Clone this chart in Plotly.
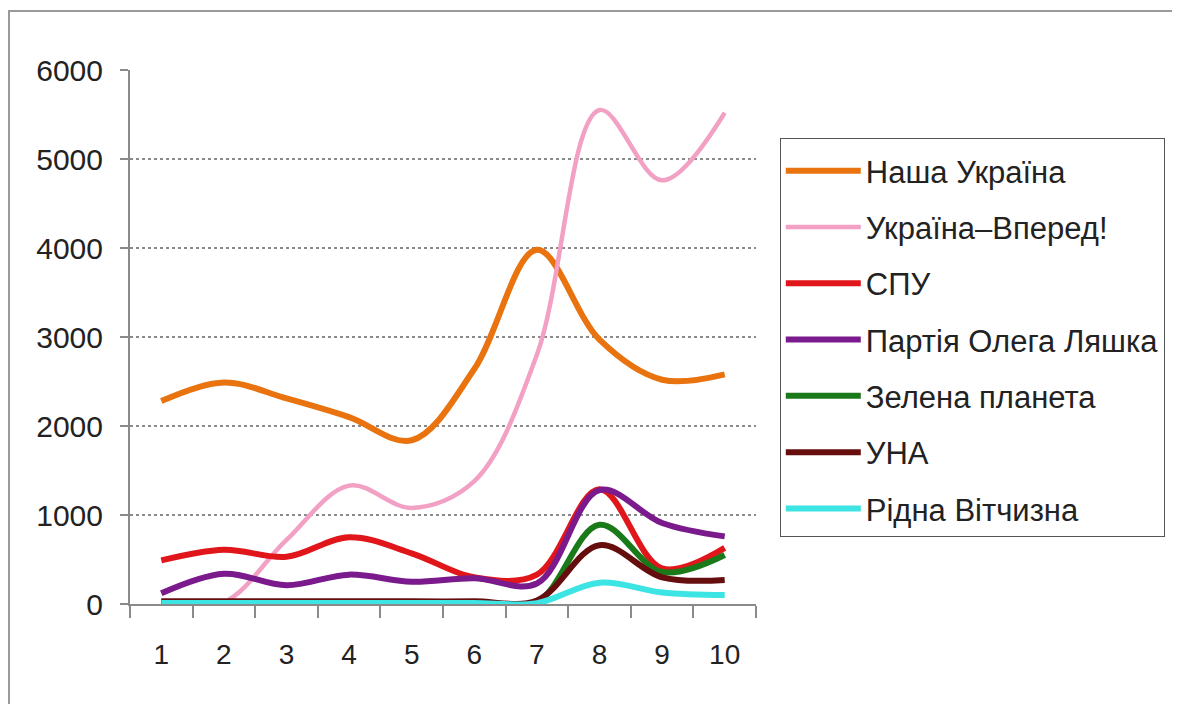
import plotly.graph_objects as go

categories = ["1", "2", "3", "4", "5", "6", "7", "8", "9", "10"]

nasha_ukraina = [2280, 2490, 2310, 2100, 1840, 2640, 3980, 2970, 2520, 2580]
ukraina_vpered = [0, 20, 720, 1330, 1080, 1380, 2800, 5550, 4760, 5520]
spu = [490, 610, 530, 750, 570, 300, 330, 1290, 400, 630]
liashko = [120, 340, 210, 330, 250, 290, 230, 1280, 910, 760]
zelena_planeta = [20, 20, 20, 20, 20, 20, 20, 890, 360, 550]
una = [30, 30, 30, 30, 30, 30, 40, 660, 300, 270]
ridna_vitchyzna = [10, 10, 10, 10, 10, 10, 10, 240, 130, 100]

series_names = ["Наша Україна", "Україна–Вперед!", "СПУ", "Партія Олега Ляшка",
                "Зелена планета", "УНА", "Рідна Вітчизна"]
series_values = [nasha_ukraina, ukraina_vpered, spu, liashko,
                 zelena_planeta, una, ridna_vitchyzna]
series_colors = ["#E8730F", "#F2A0C4", "#E0161B", "#7A1A8C",
                 "#1A7A1A", "#660E0E", "#3CE4E4"]
series_widths = [6, 4.5, 6, 6, 6, 6, 6]

y_ticks = [0, 1000, 2000, 3000, 4000, 5000, 6000]
grid_ticks = [1000, 2000, 3000, 4000, 5000]

FONT = "Liberation Sans, Arial, sans-serif"

fig = go.Figure()
for i, (name, vals, col, w) in enumerate(zip(series_names, series_values, series_colors, series_widths)):
    fig.add_trace(go.Scatter(
        x=categories, y=vals, name=name, mode="lines",
        line=dict(color=col, width=w, shape="spline", smoothing=1.0),
        legendgroup=f"g{i}",
    ))

fig.update_layout(
    width=1180, height=704,
    paper_bgcolor="white", plot_bgcolor="white",
    margin=dict(l=122, r=432, t=62, b=108),
    font=dict(family=FONT, size=26, color="#222222"),
    showlegend=True,
    legend=dict(
        x=1.038, y=0.873, xanchor="left", yanchor="top",
        bgcolor="white", bordercolor="#555555", borderwidth=1,
        font=dict(family=FONT, size=31, color="#222222"),
        title=dict(text=" ", font=dict(size=4)),
        tracegroupgap=13, itemwidth=75,
    ),
    xaxis=dict(
        type="category", tickson="boundaries", range=[-0.5, 9.5],
        showgrid=False, showline=True, linecolor="#8a8a8a", linewidth=2,
        ticks="outside", ticklen=12, tickcolor="#8a8a8a", tickwidth=2,
        tickfont=dict(family=FONT, size=28, color="#222222"),
        ticklabelstandoff=24, zeroline=False,
    ),
    yaxis=dict(
        range=[0, 6000], tickvals=y_ticks,
        showgrid=False, showline=True, linecolor="#8a8a8a", linewidth=2,
        ticks="outside", ticklen=8, tickcolor="#8a8a8a", tickwidth=2,
        tickfont=dict(family=FONT, size=30, color="#222222"),
        ticklabelstandoff=11, zeroline=False,
        minor=dict(tickvals=grid_ticks, showgrid=True, gridcolor="#8a8a8a",
                   griddash="dot", gridwidth=1.5, ticks=""),
    ),
    shapes=[dict(type="rect", xref="paper", yref="paper",
                 x0=-0.1933, x1=1.70, y0=-0.25, y1=1.1105,
                 line=dict(color="#9a9a9a", width=2), layer="below")],
)

fig.write_html("out.html")
